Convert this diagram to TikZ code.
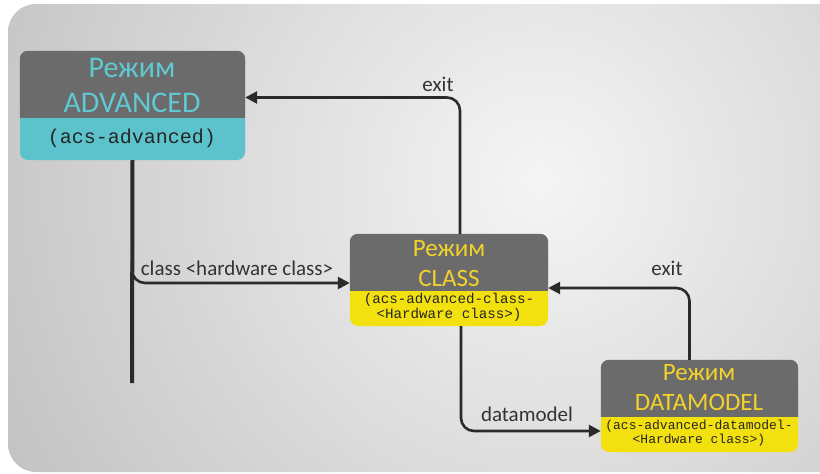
\documentclass[tikz,border=0pt]{standalone}
\usepackage{fontspec}
\setmainfont{Carlito}
\newfontfamily\monof{Liberation Mono}
\usetikzlibrary{arrows.meta}
\definecolor{boxgray}{HTML}{6B6B6B}
\definecolor{cyanbox}{HTML}{5CC3CD}
\definecolor{cyantext}{HTML}{5FCAD3}
\definecolor{yelbox}{HTML}{F3E00F}
\definecolor{yeltext}{HTML}{F4D22A}
\definecolor{labtext}{HTML}{333333}
\definecolor{linec}{HTML}{2A2A2A}
\tikzset{
  boxframe/.style={draw=none, inner sep=0pt, rectangle, rounded corners=8pt},
  ttl/.style={inner sep=0pt, font=\fontsize{#1}{#1}\selectfont},
  mono/.style={inner sep=0pt, font=\monof\fontsize{#1}{#1}\selectfont, text=black!85},
  conn/.style={draw=linec, line width=2.6pt, rounded corners=13pt, -{Triangle[length=12pt,width=12pt]}},
  lab/.style={inner sep=0pt, text=labtext, font=\fontsize{21}{21}\selectfont},
}
\begin{document}
\begin{tikzpicture}[x=1pt,y=-1pt]
\useasboundingbox (0,0) rectangle (820,474);
\fill[white] (0,0) rectangle (820,474);
\begin{scope}
  \clip[rounded corners=28pt] (8,4) rectangle (850,472);
  \shade[inner color=black!4, outer color=black!24] (540,180) circle (620pt);
\end{scope}

% ADVANCED box
\node[boxframe, minimum width=225pt, minimum height=109pt, fill=cyanbox] (adv) at (132.5,105.5) {};
\begin{scope}
  \clip (0,0) rectangle (820,117);
  \fill[boxgray, rounded corners=8pt] (adv.north west) rectangle (adv.south east);
\end{scope}
\node[ttl=30, text=cyantext] (advt1) at (132,68) {Режим};
\node[ttl=30, text=cyantext] (advt2) at (132,103) {ADVANCED};
\node[mono=20] (advm) at (132,138) {(acs-advanced)};

% CLASS box
\node[boxframe, minimum width=198pt, minimum height=92pt, fill=yelbox] (cls) at (449,280) {};
\begin{scope}
  \clip (0,0) rectangle (820,290);
  \fill[boxgray, rounded corners=8pt] (cls.north west) rectangle (cls.south east);
\end{scope}
\node[ttl=25, text=yeltext] (clst1) at (449,249) {Режим};
\node[ttl=25, text=yeltext] (clst2) at (449,278) {CLASS};
\node[mono=14.2] (clsm1) at (449,300) {(acs-advanced-class-};
\node[mono=14.2] (clsm2) at (449,315) {<Hardware class>)};

% DATAMODEL box
\node[boxframe, minimum width=197pt, minimum height=92pt, fill=yelbox] (dm) at (699.5,406) {};
\begin{scope}
  \clip (0,0) rectangle (820,416);
  \fill[boxgray, rounded corners=8pt] (dm.north west) rectangle (dm.south east);
\end{scope}
\node[ttl=25, text=yeltext] (dmt1) at (699,373) {Режим};
\node[ttl=25, text=yeltext] (dmt2) at (699,402) {DATAMODEL};
\node[mono=13] (dmm1) at (699,426) {(acs-advanced-datamodel-};
\node[mono=13] (dmm2) at (699,440) {<Hardware class>)};

% connectors
\coordinate (advend) at (132,383);
\draw[draw=linec, line width=4pt] (adv.south) -- (advend);
\coordinate (br) at (132,262);
\draw[conn] (br) |- ([yshift=-3pt]cls.west);
\node[lab] (lclass) at (237,268) {class <hardware class>};

\draw[conn] ([xshift=11pt]cls.north) |- ([yshift=8pt]adv.east);
\node[lab] (lexit1) at (438,84) {exit};

\draw[conn] ([xshift=12pt]cls.south) |- ([yshift=-25pt]dm.west);
\node[lab] (ldm) at (527,414) {datamodel};

\draw[conn] ([xshift=-10pt]dm.north) |- ([yshift=-8pt]cls.east);
\node[lab] (lexit2) at (667,268) {exit};
\end{tikzpicture}
\end{document}
